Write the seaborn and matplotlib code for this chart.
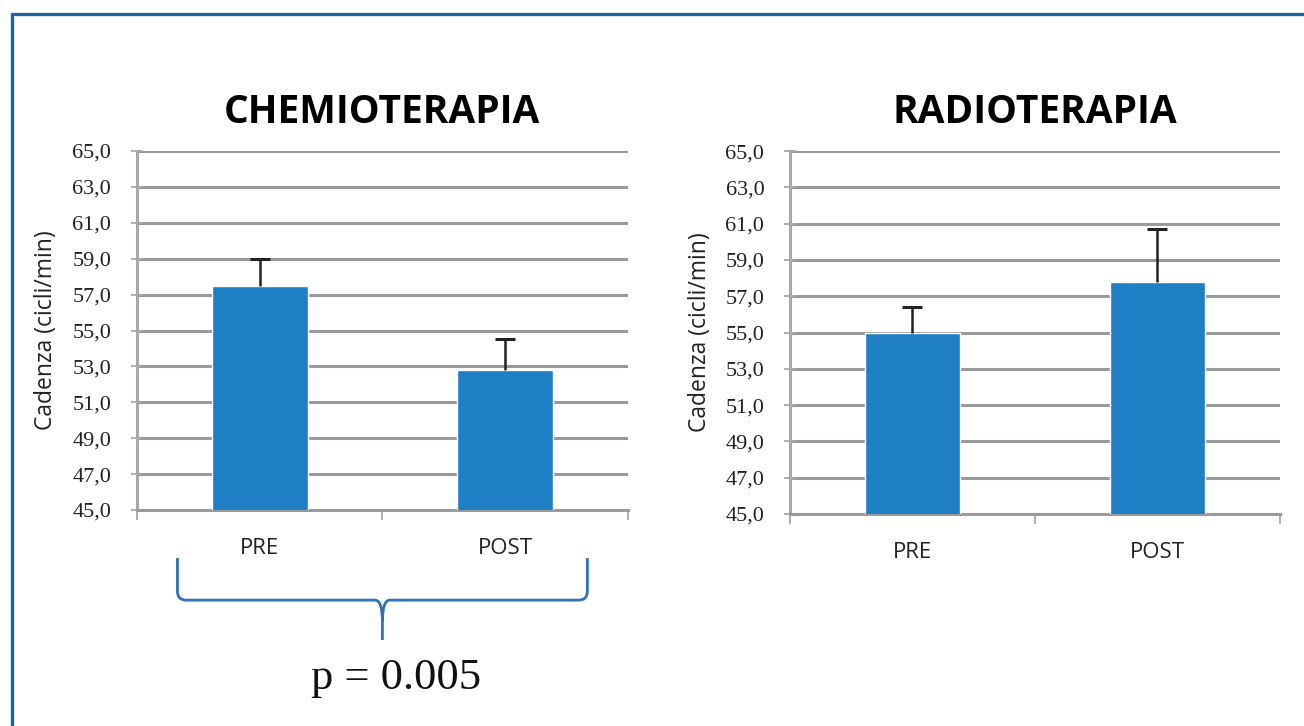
import pandas as pd
import numpy as np
import matplotlib
matplotlib.use('Agg')
import matplotlib.pyplot as plt
import seaborn as sns
from matplotlib.path import Path
from matplotlib.patches import PathPatch
from matplotlib.lines import Line2D
import matplotlib.transforms as mtransforms

# dati
fasi = ['PRE', 'POST']
chemio_media = [57.5, 52.8]
chemio_err = [1.5, 1.7]
radio_media = [55.0, 57.8]
radio_err = [1.4, 2.9]
titoli = ['CHEMIOTERAPIA', 'RADIOTERAPIA']
tick_y = np.arange(45, 66, 2)
etichetta_y = 'Cadenza (cicli/min)'
p_valore = 'p = 0.005'

sns.set_style('white')
plt.rcParams['font.family'] = ['Open Sans', 'DejaVu Sans']

colore_barre = '#1f7fc4'
grigio = '#9a9a9a'
blu_cornice = '#1a63a0'

fig = plt.figure(figsize=(13.04, 7.26), dpi=100)
ax1 = fig.add_axes([0.105, 0.2975, 0.3765, 0.4945])
ax2 = fig.add_axes([0.6058, 0.2920, 0.3758, 0.4999])

gruppi = [(ax1, chemio_media, chemio_err, titoli[0]),
          (ax2, radio_media, radio_err, titoli[1])]

for ax, medie, errori, titolo in gruppi:
    df = pd.DataFrame({'Fase': fasi, 'Cadenza': medie})
    sns.barplot(data=df, x='Fase', y='Cadenza', color=colore_barre,
                width=0.39, saturation=1, errorbar=None, ax=ax, zorder=3)
    eb = ax.errorbar(range(len(fasi)), medie, yerr=[[0] * len(errori), errori],
                     fmt='none', ecolor='#222222', elinewidth=1.8, capsize=7,
                     capthick=2.2, zorder=4)
    # niente cappuccio inferiore, solo barra d'errore superiore
    eb[1][0].set_visible(False)
    ax.set_ylim(45, 65)
    ax.set_xlim(-0.5, 1.5)
    ax.set_yticks(tick_y)
    ax.set_yticklabels([f'{v:.1f}'.replace('.', ',') for v in tick_y],
                       family='Liberation Serif', fontsize=16, color='#222222')
    ax.yaxis.grid(True, color=grigio, linewidth=2.2, zorder=0)
    ax.set_axisbelow(True)
    for s in ['top', 'right']:
        ax.spines[s].set_visible(False)
    ax.spines['left'].set_color('#a8a8a8')
    ax.spines['left'].set_linewidth(2.2)
    ax.spines['bottom'].set_color(grigio)
    ax.spines['bottom'].set_linewidth(2.2)
    ax.tick_params(axis='y', direction='inout', length=9, width=1.3,
                   color='#a8a8a8', pad=14, left=True)
    ax.tick_params(axis='x', which='major', length=0, labelsize=16,
                   labelcolor='#222222', pad=20)
    ax.set_xticks([-0.5, 0.5, 1.5], minor=True)
    ax.tick_params(axis='x', which='minor', direction='out', length=7,
                   width=1.3, color='#a8a8a8', bottom=True)
    ax.set_xlabel('')
    ax.set_ylabel(etichetta_y, fontsize=16.5, color='#222222', labelpad=10)
    ax.set_title(titolo, fontsize=28, fontweight='bold', color='#000000', pad=20)

# parentesi graffa sotto la chemioterapia
tr = mtransforms.blended_transform_factory(ax1.transData, ax1.transAxes)
xl, xr, xc = -0.335, 1.335, 0.5
yt, yh, yb = -0.134, -0.251, -0.362
verts = [(xl, yt), (xl, yh + 0.025), (xl, yh), (xl + 0.035, yh),
         (xc - 0.03, yh), (xc, yh), (xc, yh - 0.06), (xc, yb),
         (xc, yh - 0.06), (xc, yh), (xc + 0.03, yh),
         (xr - 0.035, yh), (xr, yh), (xr, yh + 0.025), (xr, yt)]
codes = [Path.MOVETO, Path.LINETO, Path.CURVE3, Path.CURVE3,
         Path.LINETO, Path.CURVE3, Path.CURVE3, Path.LINETO,
         Path.MOVETO, Path.CURVE3, Path.CURVE3,
         Path.LINETO, Path.CURVE3, Path.CURVE3, Path.LINETO]
graffa = PathPatch(Path(verts, codes), transform=tr, fill=False,
                   edgecolor='#2f72b6', linewidth=2, clip_on=False)
ax1.add_patch(graffa)
ax1.text(0.557, -0.468, p_valore, transform=tr, ha='center', va='center',
         family='Liberation Serif', fontsize=32, color='#111111')

# cornice blu (solo lati sinistro e superiore visibili)
fig.add_artist(Line2D([0.0092, 1.0], [0.9807, 0.9807], color=blu_cornice,
                      linewidth=2.4, transform=fig.transFigure))
fig.add_artist(Line2D([0.0092, 0.0092], [0.0, 0.9807], color=blu_cornice,
                      linewidth=2.4, transform=fig.transFigure))

fig.savefig('out.png', dpi=100, facecolor='white')
plt.close(fig)
